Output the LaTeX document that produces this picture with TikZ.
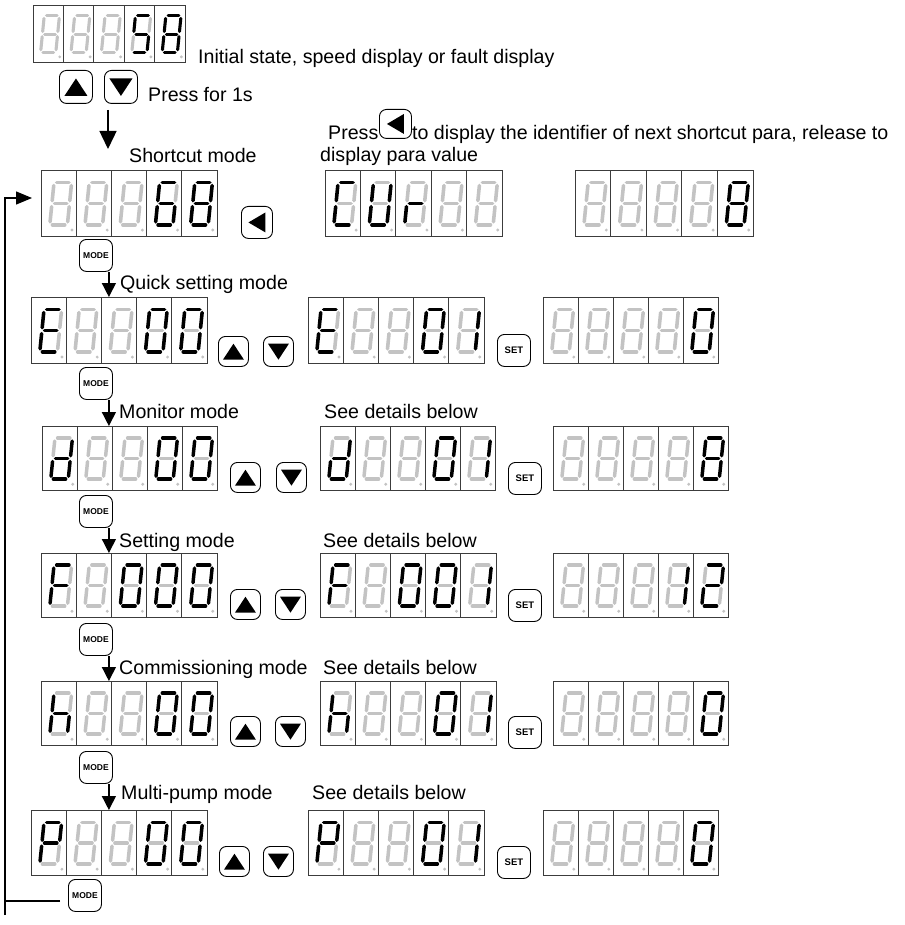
\documentclass[tikz,border=0pt]{standalone}
\usepackage{fontspec}
\setmainfont{Liberation Sans}
\usetikzlibrary{arrows.meta}
\definecolor{segoffc}{RGB}{195,195,195}
\definecolor{framec}{RGB}{60,60,60}
\tikzset{
  segon/.style={line width=\segLW pt, line cap=round, black},
  segoff/.style={line width=\segLW pt, line cap=round, segoffc},
  btn/.style={draw, fill=white, rounded corners=7pt, line width=0.9pt, inner sep=0pt, anchor=north west},
  lbl/.style={font=\fontsize{19.6}{22}\selectfont, inner sep=0pt, anchor=base west},
  arr/.style={-{Triangle[length=14pt,width=14pt]}, line width=1.4pt},
  arrbig/.style={-{Triangle[length=18pt,width=17pt]}, line width=1.4pt},
  arrloop/.style={-{Triangle[length=16pt,width=13pt]}, line width=1.4pt},
}
\makeatletter
\newcommand\mysegdraw[5]{%
  \edef\segtest{\noexpand\in@{#1}{\segList}}\segtest
  \ifin@\tikzset{curseg/.style={segon}}\else\tikzset{curseg/.style={segoff}}\fi
  \draw[curseg] (\segX+#2*\segW+#3*\segS,\segY-#3*\segH) -- (\segX+#4*\segW+#5*\segS,\segY-#5*\segH);%
}
\makeatother
\newcommand\mycellseg[5]{%
  \edef\segList{#5}%
  \pgfmathsetmacro\segX{#1+0.25*#3}%
  \pgfmathsetmacro\segY{#2+0.83*#4}%
  \pgfmathsetmacro\segW{0.5*#3}%
  \pgfmathsetmacro\segH{0.64*#4}%
  \pgfmathsetmacro\segS{0.12*#3}%
  \pgfmathsetmacro\segLW{0.054*#4}%
  \draw[framec, line width=0.9pt] (#1,#2) rectangle ++(#3,#4);
  \fill[segoffc] (#1+0.88*#3,#2+0.91*#4) circle[radius=1.6pt];
  \mysegdraw{a}{0.15}{1}{0.85}{1}
  \mysegdraw{b}{1}{0.93}{1}{0.57}
  \mysegdraw{c}{1}{0.43}{1}{0.07}
  \mysegdraw{d}{0.15}{0}{0.85}{0}
  \mysegdraw{e}{0}{0.43}{0}{0.07}
  \mysegdraw{f}{0}{0.93}{0}{0.57}
  \mysegdraw{g}{0.15}{0.5}{0.85}{0.5}
}
\newcommand\mydisp[6]{%
  \node[inner sep=0pt, outer sep=0pt, minimum width=5*#4, minimum height=#5, anchor=north west] (#1) at (#2,#3) {};
  \foreach \dg [count=\ci from 0] in {#6} {\mycellseg{#2+\ci*#4}{#3}{#4}{#5}{\dg}}
}
\newcommand\myupbtn[5]{%
  \node[btn, minimum width=#4, minimum height=#5] (#1) at (#2,#3) {};
  \pgfmathsetmacro\tr{#4/33}%
  \fill ([yshift=8.5*\tr pt]#1.center) -- ([xshift=-11.5*\tr pt,yshift=-9*\tr pt]#1.center) -- ([xshift=11.5*\tr pt,yshift=-9*\tr pt]#1.center) -- cycle;
}
\newcommand\mydnbtn[5]{%
  \node[btn, minimum width=#4, minimum height=#5] (#1) at (#2,#3) {};
  \pgfmathsetmacro\tr{#4/33}%
  \fill ([yshift=-9*\tr pt]#1.center) -- ([xshift=-11.5*\tr pt,yshift=8.5*\tr pt]#1.center) -- ([xshift=11.5*\tr pt,yshift=8.5*\tr pt]#1.center) -- cycle;
}
\newcommand\myleftbtn[5]{%
  \node[btn, minimum width=#4, minimum height=#5] (#1) at (#2,#3) {};
  \fill ([xshift=-8.5pt]#1.center) -- ([xshift=8.5pt,yshift=10pt]#1.center) -- ([xshift=8.5pt,yshift=-10pt]#1.center) -- cycle;
}
\newcommand\mymodebtn[3]{%
  \node[btn, minimum width=33, minimum height=32, font=\fontsize{8.5}{9}\selectfont\bfseries] (#1) at (#2,#3) {MODE};
}
\newcommand\mysetbtn[3]{%
  \node[btn, minimum width=33, minimum height=32, font=\fontsize{9.5}{10}\selectfont\bfseries] (#1) at (#2,#3) {SET};
}
\begin{document}
\begin{tikzpicture}[x=1pt,y=-1pt]
\fill[white] (0,0) rectangle (904,925);
\useasboundingbox (0,0) rectangle (904,925);
% Row A
\mydisp{dA}{33}{5}{30.4}{57}{-,-,-,afgcd,abcdefg}
\node[lbl] (tA) at (198,64) {Initial state, speed display or fault display};
\myupbtn{upA}{59}{70}{33}{33}
\mydnbtn{dnA}{104}{70}{33}{33}
\node[lbl] (tPress) at (148,102) {Press for 1s};
\coordinate (aS) at (108,110);
\coordinate (aE) at (108,149);
\draw[arrbig] (aS) -- (aE);
% Row B
\node[lbl] (tB) at (129,163) {Shortcut mode};
\mydisp{dB1}{41}{170}{35.2}{66}{-,-,-,afgedc,abcdefg}
\myleftbtn{lfB}{241}{206}{31}{32}
\mymodebtn{mB}{79}{239}
\node[lbl] (tPr) at (328,140) {Press};
\myleftbtn{lfT}{379}{109}{32}{29}
\node[lbl] (tTo) at (412,140) {to display the identifier of next shortcut para, release to};
\node[lbl] (tDp) at (320,162) {display para value};
\mydisp{dB2}{325}{170}{35.4}{66}{afed,bcdef,eg,-,-}
\mydisp{dB3}{575}{170}{35.6}{66}{-,-,-,-,abcdefg}
% Row C
\node[lbl] (tC) at (120,289) {Quick setting mode};
\mydisp{dC1}{31}{297}{35.2}{66}{afged,-,-,abcdef,abcdef}
\myupbtn{upC}{218}{336}{30}{30}
\mydnbtn{dnC}{263}{336}{30}{30}
\mydisp{dC2}{308}{297}{35.2}{66}{afged,-,-,abcdef,bc}
\mysetbtn{sC}{497}{334}
\mydisp{dC3}{543}{297}{35}{66}{-,-,-,-,abcdef}
\mymodebtn{mC}{79}{367}
\draw[arr] ([xshift=-4pt]mB.south east) -- ([xshift=-4pt]mB.south east |- dC1.north);
% Row D
\node[lbl] (tD) at (119,418) {Monitor mode};
\node[lbl] (tD2) at (324,418) {See details below};
\mydisp{dD1}{42}{426}{35}{64}{bcdeg,-,-,abcdef,abcdef}
\myupbtn{upD}{230}{462}{30}{30}
\mydnbtn{dnD}{276}{462}{30}{30}
\mydisp{dD2}{320}{426}{35}{64}{bcdeg,-,-,abcdef,bc}
\mysetbtn{sD}{508}{462}
\mydisp{dD3}{553}{426}{35}{64}{-,-,-,-,abcdefg}
\mymodebtn{mD}{79}{495}
\draw[arr] ([xshift=-4pt]mC.south east) -- ([xshift=-4pt]mC.south east |- dD1.north);
% Row E
\node[lbl] (tE) at (119,547) {Setting mode};
\node[lbl] (tE2) at (323,547) {See details below};
\mydisp{dE1}{41}{553}{35.2}{64}{afge,-,abcdef,abcdef,abcdef}
\myupbtn{upE}{230}{589}{30}{30}
\mydnbtn{dnE}{275}{589}{30}{30}
\mydisp{dE2}{320}{553}{35.2}{64}{afge,-,abcdef,abcdef,bc}
\mysetbtn{sE}{508}{589}
\mydisp{dE3}{553}{553}{35}{64}{-,-,-,bc,abged}
\mymodebtn{mE}{79}{623}
\draw[arr] ([xshift=-4pt]mD.south east) -- ([xshift=-4pt]mD.south east |- dE1.north);
% Row F
\node[lbl] (tF) at (119,674) {Commissioning mode};
\node[lbl] (tF2) at (323,674) {See details below};
\mydisp{dF1}{41}{681}{35.2}{64}{fegc,-,-,abcdef,abcdef}
\myupbtn{upF}{230}{716}{30}{30}
\mydnbtn{dnF}{275}{716}{30}{30}
\mydisp{dF2}{320}{681}{35.2}{64}{fegc,-,-,abcdef,bc}
\mysetbtn{sF}{508}{716}
\mydisp{dF3}{553}{681}{35}{64}{-,-,-,-,abcdef}
\mymodebtn{mF}{79}{751}
\draw[arr] ([xshift=-4pt]mE.south east) -- ([xshift=-4pt]mE.south east |- dF1.north);
% Row G
\node[lbl] (tG) at (121,799) {Multi-pump mode};
\node[lbl] (tG2) at (312,799) {See details below};
\mydisp{dG1}{31}{810}{35.2}{65}{abfge,-,-,abcdef,abcdef}
\myupbtn{upG}{219}{846}{30}{30}
\mydnbtn{dnG}{263}{846}{30}{30}
\mydisp{dG2}{308}{810}{35.2}{65}{abfge,-,-,abcdef,bc}
\mysetbtn{sG}{497}{846}
\mydisp{dG3}{543}{810}{35}{65}{-,-,-,-,abcdef}
\mymodebtn{mG}{68}{879}
\draw[arr] ([xshift=-4pt]mF.south east) -- ([xshift=-4pt]mF.south east |- dG1.north);
% loop back
\coordinate (lpBot) at (5,915);
\coordinate (lpIn) at (32,198);
\coordinate (lpH) at (60,901);
\draw[arrloop] (lpBot) |- (lpIn);
\draw[line width=1.4pt] (lpH) -- (lpH -| lpBot);
\end{tikzpicture}
\end{document}
